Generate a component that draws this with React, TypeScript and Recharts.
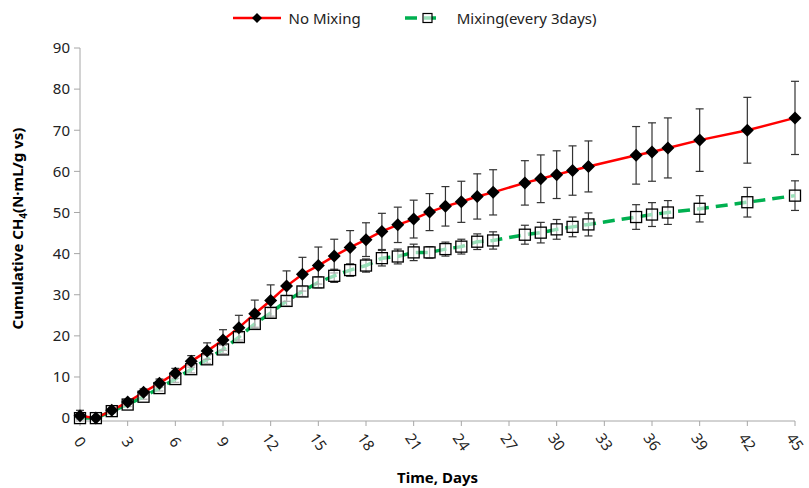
import React from "react";
import { LineChart, Line, XAxis, YAxis, ErrorBar, Legend, Label } from "recharts";

const days = [0, 1, 2, 3, 4, 5, 6, 7, 8, 9, 10, 11, 12, 13, 14, 15, 16, 17, 18, 19, 20, 21, 22, 23, 24, 25, 26, 28, 29, 30, 31, 32, 35, 36, 37, 39, 42, 45];
const noMixing = [0.6, 0, 1.9, 3.9, 6.3, 8.5, 10.9, 13.8, 16.3, 19.0, 22.0, 25.4, 28.6, 32.1, 35.0, 37.1, 39.4, 41.5, 43.4, 45.4, 47.0, 48.4, 50.1, 51.5, 52.6, 53.9, 54.9, 57.2, 58.2, 59.2, 60.2, 61.2, 63.9, 64.7, 65.7, 67.6, 70.0, 73.0];
const noMixingErr = [1.3, 0.3, 0.5, 0.6, 0.8, 1.0, 1.2, 1.4, 2.0, 2.5, 3.0, 3.3, 3.8, 3.7, 4.1, 4.5, 4.1, 4.1, 4.1, 4.4, 4.3, 4.6, 4.5, 4.8, 5.0, 5.5, 5.5, 5.4, 5.8, 5.8, 6.0, 6.2, 7.0, 7.1, 7.3, 7.6, 8.0, 8.9];
const mixing = [0, 0, 1.7, 3.3, 5.2, 7.3, 9.5, 11.9, 14.3, 16.7, 19.7, 22.9, 25.6, 28.5, 30.8, 33.0, 34.6, 36.0, 37.1, 38.9, 39.3, 40.3, 40.3, 41.1, 41.7, 42.9, 43.2, 44.6, 45.1, 45.9, 46.5, 47.1, 48.9, 49.5, 50.0, 50.9, 52.5, 54.1];
const mixingErr = [0.3, 0.3, 0.4, 0.5, 0.6, 0.7, 0.8, 0.9, 1.0, 1.0, 1.1, 1.1, 1.2, 1.2, 1.2, 1.3, 1.6, 1.5, 1.6, 1.9, 1.8, 2.0, 1.4, 1.7, 1.8, 1.9, 2.1, 2.3, 2.5, 2.4, 2.4, 2.8, 3.0, 2.9, 2.9, 3.2, 3.6, 3.6];
const xTicks = [0, 3, 6, 9, 12, 15, 18, 21, 24, 27, 30, 33, 36, 39, 42, 45];
const yTicks = [0, 10, 20, 30, 40, 50, 60, 70, 80, 90];

const data = days.map((d, i) => ({
  day: d,
  noMix: noMixing[i],
  noMixErr: noMixingErr[i],
  mix: mixing[i],
  mixErr: mixingErr[i],
}));

const FONT = "'Noto Sans', sans-serif";
const RED = "#ff0000";
const GREEN = "#00b050";
const AXIS = "#a6a6a6";

function Diamond(props: any) {
  const { cx, cy, index } = props;
  const r = 6.5;
  return <path key={`d-${index}`} d={`M${cx},${cy - r}L${cx + r},${cy}L${cx},${cy + r}L${cx - r},${cy}Z`} fill="#000" />;
}

function Square(props: any) {
  const { cx, cy, index } = props;
  const s = 5.5;
  return <rect key={`s-${index}`} x={cx - s} y={cy - s} width={s * 2} height={s * 2} fill="#fff" fillOpacity={0.6} stroke="#000" strokeWidth={1.3} />;
}

function XTick({ x, y, payload }: any) {
  return (
    <g transform={`translate(${x},${y + 14}) rotate(55)`}>
      <text textAnchor="middle" dy="0.35em" fontSize={15} fontFamily={FONT} fill="#222">{payload.value}</text>
    </g>
  );
}

function YLabel(props: any) {
  const vb = props.viewBox;
  const cy = vb.y + vb.height / 2 - 6;
  return (
    <text transform={`translate(18,${cy}) rotate(-90)`} textAnchor="middle" dy="0.35em" fontSize={15} fontWeight="bold" fontFamily={FONT} fill="#000">
      Cumulative CH<tspan dy={4} fontSize={10}>4</tspan><tspan dy={-4}>(N·mL/g vs)</tspan>
    </text>
  );
}

function XLabel(props: any) {
  const vb = props.viewBox;
  return (
    <text x={vb.x + vb.width / 2} y={478} textAnchor="middle" dy="0.35em" fontSize={15} fontWeight="bold" fontFamily={FONT} fill="#000">
      Time, Days
    </text>
  );
}

function LegendBox() {
  return (
    <div style={{ display: "flex", justifyContent: "center", alignItems: "center", fontFamily: FONT, fontSize: 15, color: "#222", paddingLeft: 20 }}>
      <svg width={50} height={16} style={{ marginRight: 6 }}>
        <line x1={0} y1={8} x2={48} y2={8} stroke={RED} strokeWidth={2.5} />
        <path d="M24,3L29,8L24,13L19,8Z" fill="#000" />
      </svg>
      <span style={{ marginRight: 42 }}>No Mixing</span>
      <svg width={40} height={16} style={{ marginRight: 14 }}>
        <line x1={0} y1={8} x2={38} y2={8} stroke={GREEN} strokeWidth={3.5} strokeDasharray="12 7" strokeDashoffset={-2} />
        <rect x={20} y={3.5} width={9} height={9} fill="#fff" fillOpacity={0.6} stroke="#000" strokeWidth={1.2} />
      </svg>
      <span>Mixing(every 3days)</span>
    </div>
  );
}

export default function App() {
  return (
    <div style={{ position: "absolute", left: 0, top: 0, background: "#fff" }}>
      <LineChart width={809} height={488} data={data} margin={{ top: 48, right: 14, bottom: 0, left: 0 }}>
        <XAxis
          type="number"
          dataKey="day"
          domain={[0, 45]}
          ticks={xTicks}
          interval={0}
          height={67}
          stroke={AXIS}
          tickSize={5}
          tick={<XTick />}
        >
          <Label content={<XLabel />} />
        </XAxis>
        <YAxis
          type="number"
          domain={[0, 90]}
          ticks={yTicks}
          interval={0}
          width={80}
          stroke={AXIS}
          tickSize={6}
          tickMargin={4}
          tick={{ fontSize: 15, fontFamily: FONT, fill: "#222" }}
        >
          <Label content={<YLabel />} />
        </YAxis>
        <Legend verticalAlign="middle" align="center" wrapperStyle={{ top: 8, left: 0, width: 809 }} content={<LegendBox />} />
        <Line
          type="linear"
          dataKey="mix"
          name="Mixing(every 3days)"
          stroke={GREEN}
          strokeWidth={3.5}
          strokeDasharray="12 7"
          dot={<Square />}
          activeDot={false}
          isAnimationActive={false}
        >
          <ErrorBar dataKey="mixErr" direction="y" width={4} stroke="#333" strokeWidth={1.2} />
        </Line>
        <Line
          type="linear"
          dataKey="noMix"
          name="No Mixing"
          stroke={RED}
          strokeWidth={2.5}
          dot={<Diamond />}
          activeDot={false}
          isAnimationActive={false}
        >
          <ErrorBar dataKey="noMixErr" direction="y" width={4} stroke="#333" strokeWidth={1.2} />
        </Line>
      </LineChart>
    </div>
  );
}
